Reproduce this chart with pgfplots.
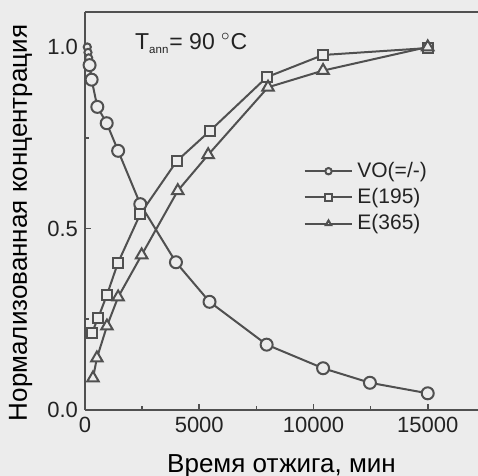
\documentclass[border=0pt]{standalone}
\usepackage{pgfplots}
\pgfplotsset{compat=1.18}
\usepackage{fontspec}
\setmainfont{Liberation Sans}
\usetikzlibrary{backgrounds}
\definecolor{bg}{RGB}{236,236,236}
\definecolor{ln}{RGB}{80,80,80}
\definecolor{txt}{RGB}{35,35,35}

\begin{document}
\begin{tikzpicture}
\begin{axis}[
  scale only axis, width=196.5pt, height=199pt,
  xmin=0, xmax=17200, ymin=0, ymax=1.0964,
  axis x line=box, axis y line=left,
  axis line style={-, ln, line width=1pt},
  xtick={0,5000,10000,15000}, ytick={0,0.5,1.0},
  minor tick num=1,
  xtick pos=bottom,
  scaled x ticks=false,
  major tick length=3pt, minor tick length=2pt,
  tick style={ln, line width=0.8pt},
  tick align=inside,
  ticklabel style={font=\fontsize{11}{13}\selectfont, text=txt},
  /pgf/number format/assume math mode=true,
  x tick label style={/pgf/number format/set thousands separator={}},
  y tick label style={/pgf/number format/fixed, /pgf/number format/fixed zerofill,
    /pgf/number format/precision=1},
  xlabel={Время отжига, мин},
  ylabel={Нормализованная концентрация},
  label style={font=\fontsize{13}{15}\selectfont, text=black},
  xlabel style={at={(rel axis cs:0.5,0)}, anchor=base, yshift=-31.5pt},
  ylabel style={at={([xshift=-29pt]rel axis cs:0,0.47)}, anchor=base},
  legend style={draw=none, fill=none, at={(axis cs:9550,0.695)}, anchor=north west,
    font=\fontsize{10.5}{12}\selectfont, text=txt, row sep=0pt, inner sep=0pt},
  legend cell align=left,
  legend image code/.code={\draw[mark repeat=2, mark phase=2, mark size=1.6pt]
    plot coordinates {(0cm,0cm) (0.42cm,0cm) (0.84cm,0cm)};},
]
\coordinate (O) at (rel axis cs:0,0);

\addplot[ln, line width=1pt, mark=*, mark size=1.8pt, mark options={fill=bg}, forget plot] coordinates {
  (100,1.0) (130,0.985) (160,0.97) (200,0.95) (290,0.91)
};
\addplot[ln, line width=1pt, mark=*, mark size=3pt, mark options={fill=bg}] coordinates {
  (200,0.95) (290,0.91) (540,0.835) (950,0.79) (1450,0.714) (2420,0.567)
  (3980,0.407) (5450,0.298) (7950,0.18) (10420,0.115) (12470,0.075) (15000,0.046)
};
\addlegendentry{VO(=/-)}
\addplot[ln, line width=1pt, mark=square*, mark size=2.6pt, mark options={fill=bg}] coordinates {
  (300,0.212) (570,0.253) (960,0.317) (1440,0.405) (2420,0.54)
  (4020,0.686) (5470,0.769) (7960,0.917) (10420,0.978) (15000,0.997)
};
\addlegendentry{E(195)}
\addplot[ln, line width=1pt, mark=triangle*, mark size=3.3pt, mark options={fill=bg}] coordinates {
  (350,0.088) (520,0.143) (960,0.231) (1450,0.311) (2480,0.427)
  (4060,0.604) (5390,0.703) (8010,0.889) (10420,0.935) (15000,1.0)
};
\addlegendentry{E(365)}

\node[anchor=center, font=\fontsize{11.5}{14}\selectfont, text=txt]
  at (axis cs:4650,1.01) {T$_{\scriptscriptstyle\mathrm{ann}}$= 90 $^{\circ}$C};
\end{axis}
\begin{scope}[on background layer]
  \fill[bg] ([shift={(-42.5pt,-33pt)}]O) rectangle ([shift={(196.5pt,205pt)}]O);
\end{scope}
\pgfresetboundingbox
\useasboundingbox ([shift={(-42.5pt,-33pt)}]O) rectangle ([shift={(196.5pt,205pt)}]O);
\end{tikzpicture}
\end{document}
